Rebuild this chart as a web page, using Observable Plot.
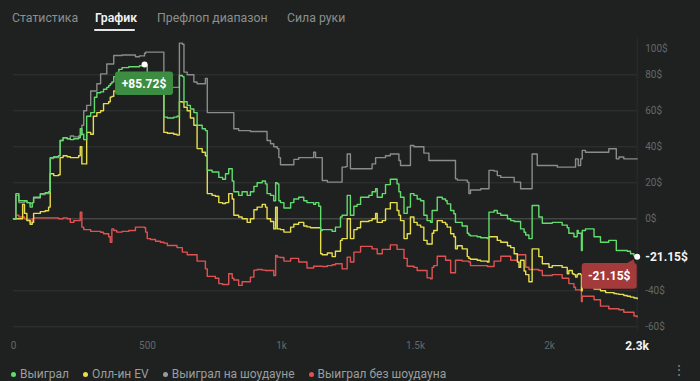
<!DOCTYPE html>
<html>
<head>
<meta charset="utf-8">
<script src="https://cdn.jsdelivr.net/npm/d3@7"></script>
<script src="https://cdn.jsdelivr.net/npm/@observablehq/plot@0.6"></script>
<style>
html, body { margin: 0; padding: 0; background: #1e2120; width: 700px; height: 381px; overflow: hidden; font-family: Roboto, "Open Sans", sans-serif; }
.tab { position: absolute; top: 11px; font-size: 12.3px; color: #8b8f8f; white-space: nowrap; }
.tab.active { color: #f2f2f2; font-weight: 600; }
.underline { position: absolute; top: 29px; height: 2px; background: #e6e6e6; border-radius: 1px; }
#chart { position: absolute; top: 40px; left: 0; }
#legend { position: absolute; top: 367px; left: 11px; display: flex; align-items: center; font-size: 12px; color: #9a9e9e; white-space: nowrap; }
.item { display: flex; align-items: center; margin-right: 14px; }
.dot { width: 5px; height: 5px; border-radius: 50%; margin-right: 4px; }
#menu { position: absolute; top: 362px; left: 672px; font-size: 14px; line-height: 16px; color: #7a7e7e; }
</style>
</head>
<body>
<div id="tabs"></div>
<div id="chart"></div>
<div id="legend"></div>
<div id="menu">⋮</div>
<script>
// ---- Data ----
const tabLabels = ["Статистика", "График", "Префлоп диапазон", "Сила руки"];
const seriesNames = ["Выиграл", "Олл-ин EV", "Выиграл на шоудауне", "Выиграл без шоудауна"];

const hands = [0,9,20,34,41,50,62,70,75,100,118,131,137,150,168,174,185,200,212,225,243,249,255,262,273,288,298,302,311,325,336,348,355,361,367,374,385,393,405,430,455,470,489,493,499,511,530,548,561,574,598,610,619,630,636,648,660,673,685,704,716,723,741,753,766,780,791,803,816,822,840,853,872,884,897,909,928,940,946,959,971,978,984,990,996,1009,1021,1034,1046,1064,1083,1095,1108,1120,1127,1139,1146,1152,1171,1189,1201,1220,1226,1239,1245,1257,1270,1282,1295,1326,1338,1351,1357,1376,1388,1406,1419,1431,1438,1444,1457,1469,1481,1494,1506,1519,1531,1543,1550,1556,1562,1568,1581,1600,1612,1618,1631,1643,1649,1656,1674,1693,1699,1705,1730,1743,1768,1774,1793,1805,1818,1843,1855,1868,1880,1886,1892,1905,1911,1923,1935,1954,1960,1973,1998,2010,2029,2047,2060,2066,2072,2085,2091,2097,2103,2107,2116,2119,2122,2134,2153,2166,2178,2190,2209,2221,2240,2249,2259,2277,2290,2302,2315,2327];

const won = [0,14,10,10,10,9,6.5,9,12,14,14.5,15,34,34.5,35,43.5,45,44.5,44,44.5,45,50,47,44,57,59,59,67.5,70,70.5,72,73,74,75,76,79,81,83,84,84.5,84.5,85,85.72,85.5,81,81,80,79.5,56.5,56,56.5,57,79.6,79,65,63,61,59,52,50,49,27,26,26,23,22,25,27.8,21,15,13,15,13,15,18,20,21,19.4,14,13,10,20,19.4,10,9,6,6,9,11,12,10,9,9,8,9,7,-6.5,-6,-6,-7,-4.6,1,2,2,13,2,7,8,12,13,15,16.7,12,14,19,22,22,19.4,15,12,3,6.5,14,13,11,10,2,-1,-1,-2,4.6,4.6,12,11,10,8.3,4.6,2.8,-2,-2,-4,-8,-9,-9.5,-10,-10.5,-11,3.7,4.6,3,2,0,-1,-1.5,-1.5,-1.5,-5.6,-7.5,-9,-11,7.4,7.4,1,-2.5,-2.5,-2,-2,-3.5,-3.5,-5,-8,-8,-10,-10,-6.5,-8,-8,-17.6,-6.5,-5.6,-5.6,-10,-10,-13,-13,-12,-12,-17.6,-17.6,-17.6,-18,-19.4,-20.5,-21.15];

const allinEV = [0,0,0,8,3,-1,-3,-2,3,4,4.5,6.5,25,24,24.5,34,35,34.5,34,34,35,40,30.5,30.5,48,47,57,57,59,60,64,64,65,67.6,68,71,74,76,77,78,79,79,80,80,79,75,74,73,48,47.5,47,46.5,65,64.8,62,60,56,52,39,37,35,14,13,12.5,9,8.5,9,14,11,2,1,0,-2,0,5,6.5,8,6.5,0,-1.5,-5.6,6.5,-5.6,-5.6,-6,-7.4,-7.4,-4.6,-3,-2,-4,-4.5,-5,-5,-5,-5,-19.4,-20,-19,-21,-18,-12,-11,-11,0,-11,-6,-5,-1.5,-1,0,3,-2,-1,5.5,9,9,4.6,2,-1,-11,-8.3,1,-2,-3.5,-4.6,-12,-14,-14,-14,-8,-6.5,-1,-2,-3,-4.6,-8.3,-10,-16.7,-15,-16.7,-21,-22,-22.5,-23,-23.5,-24,-10,-10,-12,-13,-15,-16,-19.4,-24,-27,-23,-29,-31,-35,-16.7,-16.7,-21,-25,-27,-26,-26,-27,-27,-30.5,-28.7,-30.5,-31,-32.4,-31,-30.5,-31,-40,-37,-37,-38,-39,-39,-40,-41,-41,-41.5,-41.7,-42,-42.6,-43,-43.5,-44,-44.4];

const wonShowdown = [0,13,9,9,10,9,8.5,9,11.5,13.5,14,14.5,33.5,34,35,43.5,45,44.5,46,45.5,46,46.5,52,60,63,71,71,71,75,80.5,80.5,86,86,86,86,90.7,90.7,90.7,91,91,90,90.5,92,92.6,92.6,92.6,92.6,92.6,73,73,73,73,97.6,97,81.5,80,80,76,75,75,78,59,59,59,59,59,59,59,59,50,49,49,49,48.5,48.5,48.5,48.5,48.5,43.5,41.7,40,40,39,34,30,30,30,30,33,34,34,34,34,37,34,34,34,21.3,20.4,20.4,20.4,20.4,28.7,29,36,27.8,27.8,27.8,27.8,27.8,30.5,34,34,34,35,36,36,36,32.4,29.6,29.6,29.6,40.7,40,40,40,36.5,36.5,32.4,32.4,32.4,32.4,32.4,32.4,32.4,32.4,32.4,32.4,22.2,21.5,21.5,20.4,14,16,16,16.7,16.7,26.9,26.5,24,23,23,23,20.4,20.4,20.4,16.7,16.7,16.7,16.7,36,29.6,29.6,29.6,29.6,29.6,28.7,28.7,28.7,28.7,28.7,28.7,28.7,33.3,33.3,29.6,33.3,33.3,38,37,37,37,37,37,37,38.9,38.9,33.3,34.3,33.3,33.3,33.3,33.3,33.3];

const wonNoShowdown = [0,2,1,1,0,-0.5,-2,0,0.5,0.5,0.5,0.5,0.5,0.5,0,0,0.5,0,-2,-1,-1,3.7,-4.6,-6,-6,-7,-7,-7,-7,-7.5,-8.3,-8.3,-10,-13,-5.6,-6.5,-7.4,-7.4,-7,-6.5,-4.6,-4.6,-5,-7.4,-11,-11.5,-12.5,-13,-13.5,-14.8,-14.8,-16,-16,-18.5,-18.5,-20,-20,-20,-23.5,-23.5,-27.8,-32,-32,-33,-36,-36.5,-36.5,-30.5,-33,-34,-37,-35,-35,-32.4,-28.5,-28.2,-28.5,-28.7,-28.7,-28.7,-31.5,-20.4,-21.3,-21.3,-21.5,-23.5,-23.5,-22,-22,-24,-24,-27.3,-27.3,-26.4,-26.4,-26.4,-26.4,-26.5,-26,-25.5,-25,-25,-27.8,-27.8,-21.3,-24,-18.5,-18.5,-15.3,-15.3,-16.7,-16.7,-19.4,-17,-17,-14.5,-14.5,-17,-17,-17,-22,-26.4,-26.4,-27,-28.7,-28.7,-28.7,-32.8,-32.8,-33.3,-27,-26,-20.8,-20.8,-23,-23,-30,-30,-23,-23,-23.5,-23.5,-24,-26,-26,-26,-26.5,-26.5,-23.5,-23.5,-20.8,-20.8,-23,-23,-20,-20,-20,-20,-26.9,-28.2,-28.2,-28.2,-28.7,-31.5,-31.5,-31,-31,-33,-33,-33,-36,-36,-38,-39.5,-39.5,-39.5,-39.5,-46,-43,-43,-43,-45,-45,-48.5,-48.5,-50,-50,-50,-50.5,-51.9,-51.9,-51.9,-54,-54.5];

const gridValues = [80, 60, 40, 20, 0, -40, -60];
const yLabelValues = [80, 60, 40, 20, 0, -40, -60];
const yTopLabel = [100];
const xTickValues = [0, 500, 1000, 1500, 2000];
const xTickLabels = ["0", "500", "1k", "1.5k", "2k"];
const lastLabel = "2.3k";
const peakLabel = "+85.72$";
const endLabel = "-21.15$";

const colors = ["#62dc6c", "#e6de4e", "#8a8b8b", "#e05252"];
const legendColors = ["#62dc6c", "#e6de4e", "#9a9a9a", "#e05252"];

// ---- Build ----
const tabLeft = [12, 95, 157, 287];
const tabs = document.getElementById("tabs");
tabLabels.forEach((t, i) => {
  const d = document.createElement("div");
  d.className = "tab" + (i === 1 ? " active" : "");
  d.style.left = tabLeft[i] + "px";
  d.textContent = t;
  tabs.appendChild(d);
});
const ul = document.createElement("div");
ul.className = "underline";
ul.style.left = "94px"; ul.style.width = "41px";
tabs.appendChild(ul);

const rows = hands.map((h, i) => ({h, g: won[i], y: allinEV[i], s: wonShowdown[i], r: wonNoShowdown[i]}));
const last = rows[rows.length - 1];
let peak = rows[0];
rows.forEach(d => { if (d.g > peak.g) peak = d; });
const lastHand = last.h;

const plot = Plot.plot({
  width: 700,
  height: 312,
  marginLeft: 0, marginRight: 0, marginTop: 0, marginBottom: 0,
  style: {background: "transparent", fontFamily: "Roboto, 'Open Sans', sans-serif", overflow: "visible"},
  x: {domain: [0, 2330], range: [13, 637.5], axis: null},
  y: {domain: [-60, 100], range: [286.3, -1.7], axis: null},
  marks: [
    Plot.ruleY(gridValues, {y: d => d, x1: 0, x2: lastHand, stroke: d => d === 0 ? "#545857" : "#313534", strokeWidth: 1}),
    Plot.ruleX([lastHand], {x: d => d, y1: -62, y2: 100, stroke: "#2a2e2d"}),
    Plot.line(rows, {x: "h", y: "s", stroke: colors[2], strokeWidth: 1.4, curve: "step-after"}),
    Plot.line(rows, {x: "h", y: "r", stroke: colors[3], strokeWidth: 1.4, curve: "step-after"}),
    Plot.line(rows, {x: "h", y: "y", stroke: colors[1], strokeWidth: 1.4, curve: "step-after"}),
    Plot.line(rows, {x: "h", y: "g", stroke: colors[0], strokeWidth: 1.4, curve: "step-after"}),
    Plot.dot([peak], {x: "h", y: "g", r: 3, fill: "#ffffff", stroke: "none"}),
    Plot.dot([last], {x: "h", y: "g", r: 3, fill: "#ffffff", stroke: "none"}),
    Plot.text(yLabelValues, {x: lastHand, y: d => d, text: d => d + "$", dx: 8, textAnchor: "start", fill: "#646868", fontSize: 10}),
    Plot.text(yTopLabel, {x: lastHand, y: d => d, text: d => d + "$", dx: 8, dy: 10, textAnchor: "start", fill: "#646868", fontSize: 10}),
    Plot.text(xTickValues, {x: d => d, y: -60, dy: 19, text: (d, i) => xTickLabels[i], textAnchor: "middle", fill: "#646868", fontSize: 10}),
    Plot.text([last], {x: "h", y: -60, dy: 19, text: () => lastLabel, textAnchor: "middle", fill: "#f4f4f4", fontSize: 12, fontWeight: "bold"}),
    Plot.text([last], {x: "h", y: "g", text: () => endLabel, dx: 8, textAnchor: "start", fill: "#f4f4f4", fontSize: 12, fontWeight: "bold"})
  ]
});

// Tooltip-like labels positioned from the scales
const sx = plot.scale("x"), sy = plot.scale("y");
const svg = d3.select(plot);
{
  const px = sx.apply(peak.h), py = sy.apply(peak.g);
  const g = svg.append("g");
  g.append("rect").attr("x", px - 29).attr("y", py + 7.5).attr("width", 58).attr("height", 23.5).attr("rx", 3).attr("fill", "#3c8d41");
  g.append("text").attr("x", px).attr("y", py + 19.5).attr("text-anchor", "middle").attr("dominant-baseline", "central")
    .attr("fill", "#ffffff").attr("font-size", 12).attr("font-weight", "bold").attr("font-family", "Roboto, sans-serif").text(peakLabel);
}
{
  const ex = sx.apply(last.h), ey = sy.apply(last.g);
  const g = svg.append("g");
  g.append("rect").attr("x", ex - 55).attr("y", ey + 6.7).attr("width", 55).attr("height", 25.6).attr("rx", 3).attr("fill", "#a43a3a");
  g.append("path").attr("d", `M${ex - 10},${ey + 7} L${ex - 2},${ey + 7} L${ex - 3},${ey + 3} Z`).attr("fill", "#a43a3a");
  g.append("text").attr("x", ex - 27.5).attr("y", ey + 19.5).attr("text-anchor", "middle").attr("dominant-baseline", "central")
    .attr("fill", "#ffffff").attr("font-size", 12).attr("font-weight", "bold").attr("font-family", "Roboto, sans-serif").text(endLabel);
}
document.getElementById("chart").appendChild(plot);

// Legend
const legend = document.getElementById("legend");
seriesNames.forEach((n, i) => {
  const it = document.createElement("div");
  it.className = "item";
  const dot = document.createElement("span");
  dot.className = "dot";
  dot.style.background = legendColors[i];
  const t = document.createElement("span");
  t.textContent = n;
  it.appendChild(dot); it.appendChild(t);
  legend.appendChild(it);
});
</script>
</body>
</html>
